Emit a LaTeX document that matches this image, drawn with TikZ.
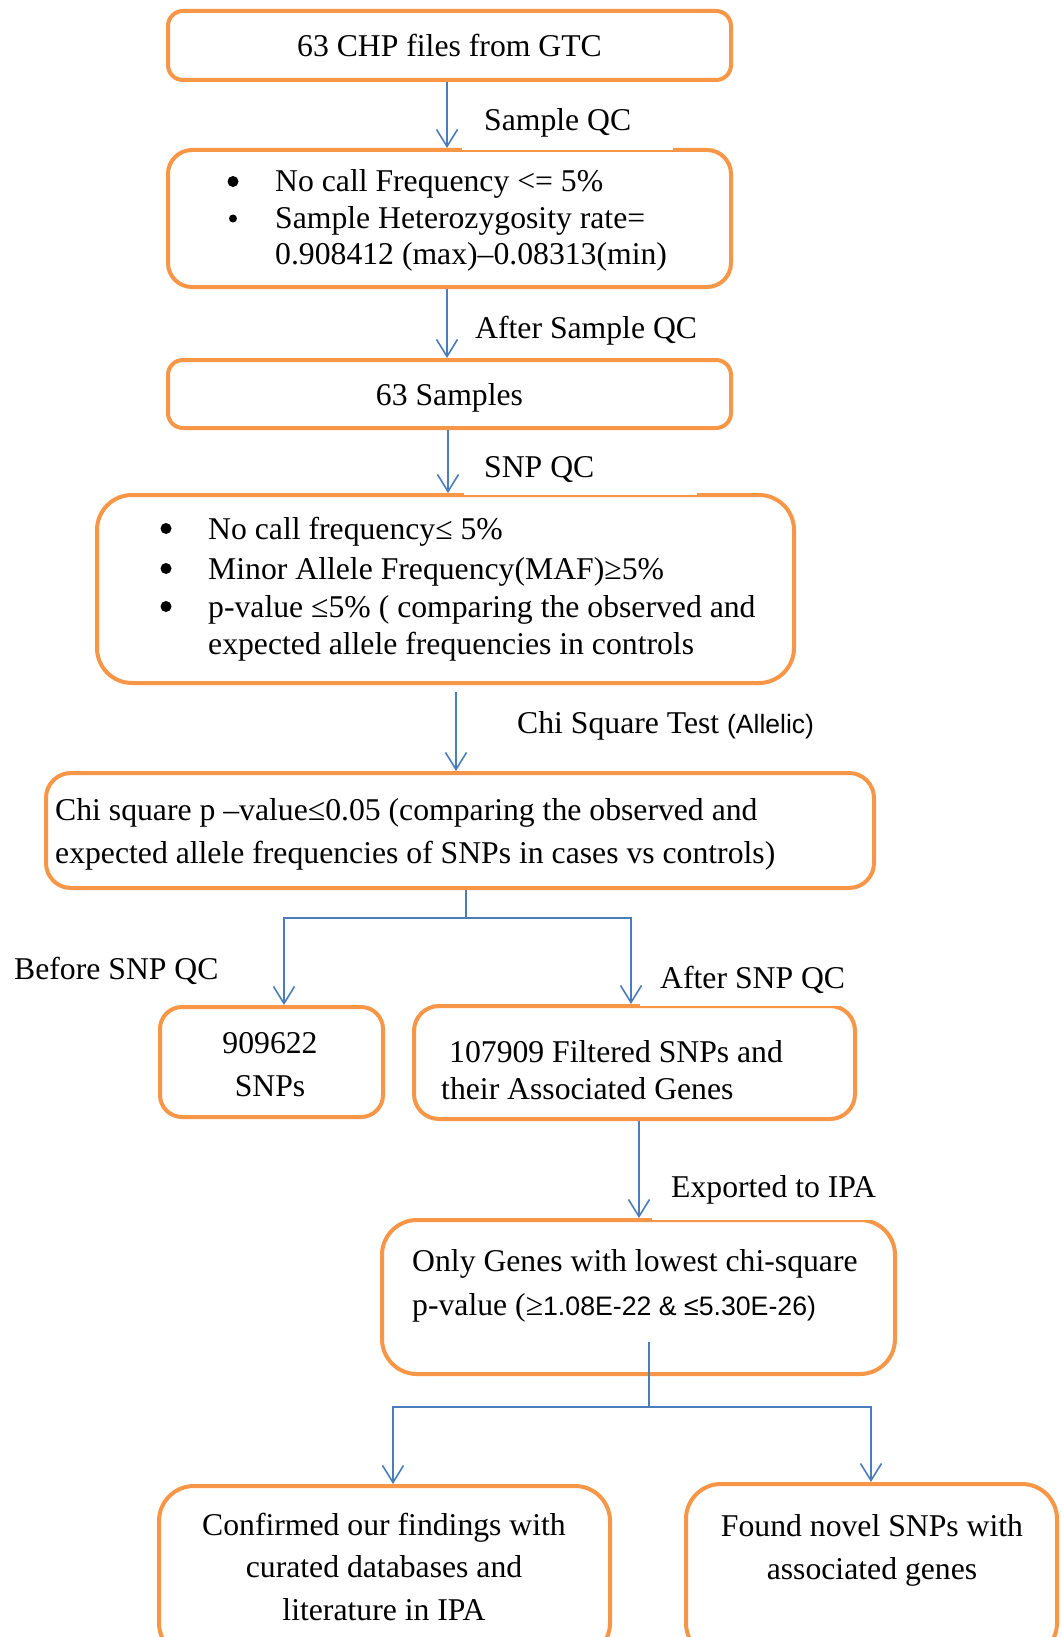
\documentclass[tikz,border=0pt]{standalone}
\usepackage{fontspec}
\setmainfont{Liberation Serif}
\newfontfamily\arialf{Liberation Sans}
\usetikzlibrary{arrows.meta}
\definecolor{boxorange}{HTML}{F79646}
\definecolor{arrblue}{HTML}{4A7EBB}
\begin{document}
\begin{tikzpicture}[x=1pt,y=-1pt,
  box/.style={draw=boxorange, line width=4pt, rounded corners=#1, inner sep=0pt},
  box/.default=20pt,
  txt/.style={inner sep=0pt, anchor=base west, font=\fontsize{31.7}{36.5}\selectfont},
  ctxt/.style={inner sep=0pt, anchor=base, font=\fontsize{31.7}{36.5}\selectfont},
  lbl/.style={inner sep=0pt, anchor=base west, font=\fontsize{31.7}{36.5}\selectfont},
  bul/.style={inner sep=0pt, anchor=center},
  ln/.style={draw=arrblue, line width=1.6pt},
  arr/.style={ln, -{Straight Barb[length=17pt,width=21pt,line width=1.6pt]}},
  cover/.style={fill=white, draw=none}]
\useasboundingbox (0,0) rectangle (1061,1637);
\fill[white] (0,0) rectangle (1061,1637);

% boxes
\node[box=15pt, minimum width=563pt, minimum height=69pt]  (b1)  at (449.5,45.5) {};
\node[box=24pt, minimum width=563pt, minimum height=137pt] (b2)  at (449.5,218.5) {};
\node[box=15pt, minimum width=563pt, minimum height=68pt]  (b3)  at (449.5,394) {};
\node[box=35pt, minimum width=697pt, minimum height=188pt] (b4)  at (445.5,589) {};
\node[box=25pt, minimum width=828pt, minimum height=115pt] (b5)  at (460,830.5) {};
\node[box=22pt, minimum width=223pt, minimum height=110pt] (b6)  at (271.5,1062) {};
\node[box=25pt, minimum width=441pt, minimum height=113pt] (b7)  at (634.5,1062.5) {};
\node[box=35pt, minimum width=513pt, minimum height=154pt] (b8)  at (638.5,1297) {};
\node[box=35pt, minimum width=451pt, minimum height=172pt] (b9)  at (384.5,1572) {};
\node[box=35pt, minimum width=371pt, minimum height=174pt] (b10) at (871.5,1571) {};

% thin white strips where the labels overlap the borders
\path[cover] (462,147.5) rectangle (673,149.8);
\path[cover] (464,492.5) rectangle (697,494.8);
\path[cover] (640,1003.5) rectangle (848,1005.8);
\path[cover] (652,1217.5) rectangle (880,1219.8);

% box texts
\node[ctxt] (t1) at (449.5,57) {63 CHP files from GTC};

\fill (233,181.5) circle (5.5pt);
\fill (233,218.5) circle (4pt);
\node[txt] (t2a) at (275,192) {No call Frequency <= 5\%};
\node[txt] (t2b) at (275,229) {Sample Heterozygosity rate=};
\node[txt] (t2c) at (275,265) {0.908412 (max)–0.08313(min)};

\node[ctxt] (t3) at (449.5,405) {63 Samples};

\fill (166,528.5) circle (5.5pt);
\fill (166,568.5) circle (5.5pt);
\fill (166,606.5) circle (5.5pt);
\node[txt] (t4a) at (208,539) {No call frequency≤ 5\%};
\node[txt] (t4b) at (208,579) {Minor Allele Frequency(MAF)≥5\%};
\node[txt] (t4c) at (208,617) {p-value ≤5\% ( comparing the observed and};
\node[txt] (t4d) at (208,654) {expected allele frequencies in controls};

\node[txt] (t5a) at (55,820) {Chi square p –value≤0.05 (comparing the observed and};
\node[txt] (t5b) at (55,863) {expected allele frequencies of SNPs in cases vs controls)};

\node[ctxt] (t6a) at (270,1053) {909622};
\node[ctxt] (t6b) at (270,1096) {SNPs};

\node[txt] (t7a) at (449,1062) {107909 Filtered SNPs and};
\node[txt] (t7b) at (441,1099) {their Associated Genes};

\node[txt] (t8a) at (412,1271) {Only Genes with lowest chi-square};
\node[txt] (t8b) at (412,1315) {p-value (≥{\arialf\fontsize{26.7}{30}\selectfont 1.08E-22 \& ≤5.30E-26)}};

\node[ctxt] (t9a) at (384,1535) {Confirmed our findings with};
\node[ctxt] (t9b) at (384,1577) {curated databases and};
\node[ctxt] (t9c) at (384,1620) {literature in IPA};

\node[ctxt] (t10a) at (872,1536) {Found novel SNPs with};
\node[ctxt] (t10b) at (872,1579) {associated genes};

% connector labels
\node[lbl] (l1) at (484,131) {Sample QC};
\node[lbl] (l2) at (475,338) {After Sample QC};
\node[lbl] (l3) at (484,477) {SNP QC};
\node[lbl] (l4) at (517,733) {Chi Square Test {\arialf\fontsize{26.5}{30}\selectfont(Allelic)}};
\node[lbl] (l5) at (14,979) {Before SNP QC};
\node[lbl] (l6) at (660,988) {After SNP QC};
\node[lbl] (l7) at (671,1197) {Exported to IPA};

% connectors
\coordinate (x1) at (447,0);
\coordinate (x3) at (448,0);
\draw[arr] (b1.south -| x1) -- (b2.north -| x1);
\draw[arr] (b2.south -| x1) -- (b3.north -| x1);
\draw[arr] (b3.south -| x3) -- (b4.north -| x3);
\coordinate (c4) at (456,692);
\draw[arr] (c4) -- (b5.north -| c4);

\coordinate (s1) at (466,918);
\coordinate (sL) at (284,918);
\coordinate (sR) at (631,918);
\draw[ln] (b5.south -| s1) -- (s1);
\draw[arr] (s1) -- (sL) -- (b6.north -| sL);
\draw[arr] (s1) -- (sR) -- (b7.north -| sR);

\coordinate (x7) at (639,0);
\draw[arr] (b7.south -| x7) -- (b8.north -| x7);

\coordinate (u1) at (649,1342);
\coordinate (uL) at (393,1407);
\coordinate (uR) at (871,1407);
\draw[ln] (u1) -- (u1 |- uL);
\draw[arr] (u1 |- uL) -- (uL) -- (b9.north -| uL);
\draw[arr] (u1 |- uL) -- (uR) -- (b10.north -| uR);
\end{tikzpicture}
\end{document}
